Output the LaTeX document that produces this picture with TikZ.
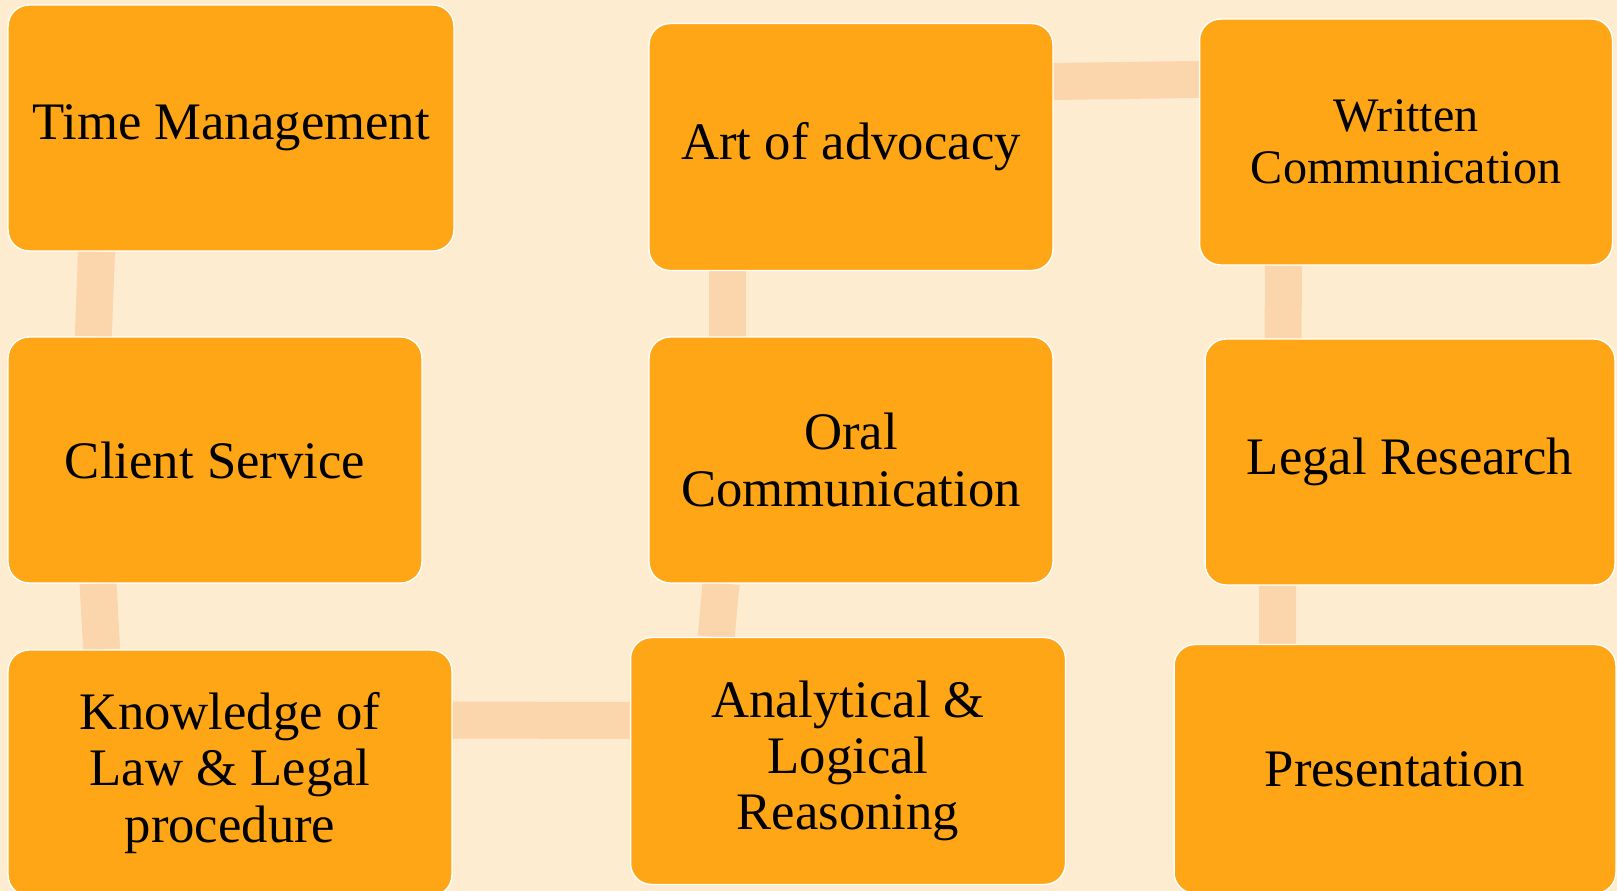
\documentclass[tikz,border=0pt]{standalone}
\usepackage{fontspec}
\setmainfont{Liberation Serif}
\usepackage{tikz}
\usetikzlibrary{positioning}
\definecolor{bgpeach}{RGB}{254,236,208}
\definecolor{boxorange}{RGB}{255,166,23}
\definecolor{linkpeach}{RGB}{251,214,172}
\tikzset{
	skill/.style={draw=white, line width=0.8pt, fill=boxorange, rectangle, rounded corners=0.42cm,
		align=center, inner sep=0pt, font=\fontsize{30}{32}\selectfont},
	link/.style={linkpeach, line width=0.74cm}
}

\begin{document}
\begin{tikzpicture}
		[x=0.02cm, y=-0.02cm]
		\fill[bgpeach] (0,0) rectangle (1617,891);
		\useasboundingbox (0,0) rectangle (1617,891);

		\coordinate (a) at (231,128);
		\coordinate (b) at (215,460);
		\coordinate (c) at (230,773);
		\coordinate (d) at (848,761);
		\coordinate (e) at (851,460);
		\coordinate (f) at (851,147);
		\coordinate (g) at (1406,142);
		\coordinate (h) at (1410,462);
		\coordinate (i) at (1395,769);

		% connectors sit underneath, so draw them first
		\path
		(a) node[minimum width=8.92cm, minimum height=4.92cm](tm) {}
		(b) node[minimum width=8.28cm, minimum height=4.92cm](cs) {}
		(c) node[minimum width=8.88cm, minimum height=4.92cm](kl) {}
		(d) node[minimum width=8.70cm, minimum height=4.94cm](al) {}
		(e) node[minimum width=8.08cm, minimum height=4.92cm](oc) {}
		(f) node[minimum width=8.08cm, minimum height=4.94cm](aa) {}
		(g) node[minimum width=8.26cm, minimum height=4.92cm](wc) {}
		(h) node[minimum width=8.20cm, minimum height=4.92cm](lr) {}
		(i) node[minimum width=8.84cm, minimum height=4.98cm](pr) {};

		\draw[link] ([xshift=-2.69cm]tm.south) to ([xshift=-2.434cm]cs.north);
		\draw[link] ([xshift=-2.34cm]cs.south) to ([xshift=-2.568cm]kl.north);
		\draw[link] ([yshift=1.06cm]kl.east) to ([yshift=0.81cm]al.west);
		\draw[link] ([xshift=-2.638cm]al.north) to ([xshift=-2.6cm]oc.south);
		\draw[link] ([xshift=-2.48cm]oc.north) to ([xshift=-2.48cm]aa.south);
		\draw[link] ([yshift=1.31cm]aa.east) to ([yshift=1.252cm]wc.west);
		\draw[link] ([xshift=-2.45cm]wc.south) to ([xshift=-2.54cm]lr.north);
		\draw[link] ([xshift=-2.65cm]lr.south) to ([xshift=-2.35cm]pr.north);

		\path
		(a) node[skill, minimum width=8.92cm, minimum height=4.92cm] {Time Management}
		(b) node[skill, minimum width=8.28cm, minimum height=4.92cm] {Client Service}
		(c) node[skill, minimum width=8.88cm, minimum height=4.92cm] {Knowledge of\\Law \& Legal\\procedure}
		(d) node[skill, minimum width=8.70cm, minimum height=4.94cm] {Analytical \&\\Logical\\Reasoning}
		(e) node[skill, minimum width=8.08cm, minimum height=4.92cm] {Oral\\Communication}
		(f) node[skill, minimum width=8.08cm, minimum height=4.94cm] {Art of advocacy}
		(g) node[skill, minimum width=8.26cm, minimum height=4.92cm, font=\fontsize{27.4}{29.5}\selectfont] {Written\\Communication}
		(h) node[skill, minimum width=8.20cm, minimum height=4.92cm] {Legal Research}
		(i) node[skill, minimum width=8.84cm, minimum height=4.98cm] {Presentation};
	\end{tikzpicture}
\end{document}
